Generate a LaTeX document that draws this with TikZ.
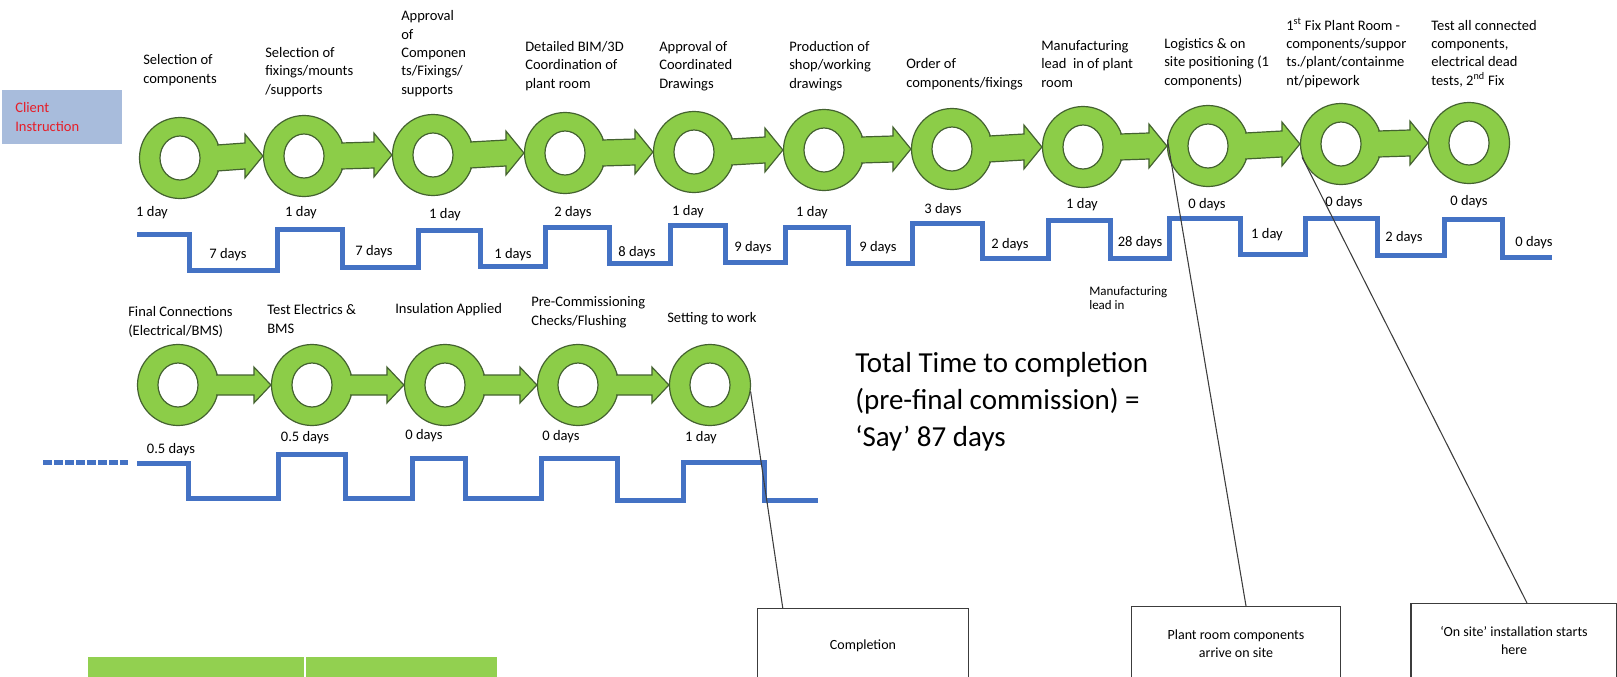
\documentclass[tikz,border=0pt]{standalone}
\usepackage{fontspec}
\setmainfont{Carlito}
\usetikzlibrary{calc}
\definecolor{ringgreen}{RGB}{140,205,72}
\definecolor{ringline}{RGB}{68,98,48}
\definecolor{stepblue}{RGB}{68,114,196}
\definecolor{clientblue}{RGB}{168,188,220}
\definecolor{clientred}{RGB}{230,30,40}
\definecolor{tablegreen}{RGB}{146,208,80}
\definecolor{leaderline}{RGB}{60,60,60}

\begin{document}
\begin{tikzpicture}[x=0.75pt,y=0.75pt,yscale=-1,xscale=1,
  ring/.style={circle, draw=ringline, line width=0.9pt, fill=ringgreen, minimum size=60.75pt, inner sep=0pt,
    path picture={\draw[ringline, line width=0.9pt, fill=white] (path picture bounding box.center) ellipse (15pt and 16.5pt);}},
  flowarrow/.style={draw=ringline, line width=0.9pt, fill=ringgreen,
    to path={($(\tikztostart)+(-4,-13)$) -- ($(\tikztotarget)+(-18,-13)$) -- ($(\tikztotarget)+(-18,-22)$) -- (\tikztotarget)
      -- ($(\tikztotarget)+(-18,22)$) -- ($(\tikztotarget)+(-18,13)$) -- ($(\tikztostart)+(-4,13)$)}},
  smallflow/.style={draw=ringline, line width=0.9pt, fill=ringgreen,
    to path={($(\tikztostart)+(-3,-10)$) -- ($(\tikztotarget)+(-17,-10)$) -- ($(\tikztotarget)+(-17,-18)$) -- (\tikztotarget)
      -- ($(\tikztotarget)+(-17,18)$) -- ($(\tikztotarget)+(-17,10)$) -- ($(\tikztostart)+(-3,10)$)}},
  timeline/.style={draw=stepblue, line width=3.75pt},
  steplabel/.style={anchor=base west, inner sep=0pt, align=left, font=\fontsize{10.9}{13.7}\selectfont},
  daylabel/.style={inner sep=0pt, font=\fontsize{10.9}{13.7}\selectfont},
  notebox/.style={draw=leaderline, line width=1.1pt, fill=white, anchor=north, minimum height=55.5pt, align=center, font=\fontsize{10.5}{13.5}\selectfont},
  leader/.style={draw=leaderline, line width=0.8pt}]
\useasboundingbox (0,0) rectangle (1617,676);
\clip (0,0) rectangle (1617,676);

%Shape: Rectangle
\node[fill=clientblue, text=clientred, minimum height=41pt, text width=70pt, inner xsep=10pt, align=left, font=\fontsize{10.9}{13.7}\selectfont] (client) at (62,117) {Client\\Instruction};

%Shape: Circle
\node[ring] (c1) at (180,158) {};
\node[ring] (c2) at (304,156) {};
\node[ring] (c3) at (433,155) {};
\node[ring] (c4) at (565,153) {};
\node[ring] (c5) at (694,152) {};
\node[ring] (c6) at (824,150) {};
\node[ring] (c7) at (952,149) {};
\node[ring] (c8) at (1083,147) {};
\node[ring] (c9) at (1208,146) {};
\node[ring] (c10) at (1341,144) {};
\node[ring] (c11) at (1469,143) {};

%Right Arrow
\path[flowarrow] (c1.east) to (c2.west);
\path[flowarrow] (c2.east) to (c3.west);
\path[flowarrow] (c3.east) to (c4.west);
\path[flowarrow] (c4.east) to (c5.west);
\path[flowarrow] (c5.east) to (c6.west);
\path[flowarrow] (c6.east) to (c7.west);
\path[flowarrow] (c7.east) to (c8.west);
\path[flowarrow] (c8.east) to (c9.west);
\path[flowarrow] (c9.east) to (c10.west);
\path[flowarrow] (c10.east) to (c11.west);

%Shape: Circle
\node[ring] (s1) at (178,385) {};
\node[ring] (s2) at (312,385) {};
\node[ring] (s3) at (445,385) {};
\node[ring] (s4) at (578,385) {};
\node[ring] (s5) at (710,385) {};

%Right Arrow
\path[smallflow] (s1.east) to (s2.west);
\path[smallflow] (s2.east) to (s3.west);
\path[smallflow] (s3.east) to (s4.west);
\path[smallflow] (s4.east) to (s5.west);

%Straight Lines
\draw[timeline] (137,234) -- (189,234) -- (189,270) -- (277,270) -- (277,229) -- (342,229) -- (342,267) -- (418,267) -- (418,230) -- (480,230) -- (480,266) -- (545,266) -- (545,227) -- (609,227) -- (609,263) -- (670,263) -- (670,225) -- (725,225) -- (725,262) -- (785,262) -- (785,227) -- (848,227) -- (848,263) -- (912,263) -- (912,223) -- (982,223) -- (982,258) -- (1048,258) -- (1048,220) -- (1110,220) -- (1110,258) -- (1169,258) -- (1169,218) -- (1240,218) -- (1240,254) -- (1305,254) -- (1305,218) -- (1377,218) -- (1377,255) -- (1444,255) -- (1444,219) -- (1502,219) -- (1502,257) -- (1552,257);
\draw[timeline, dash pattern=on 6.75pt off 1.5pt] (43,462) -- (128,462);
\draw[timeline] (137,463) -- (188,463) -- (188,498) -- (278,498) -- (278,454) -- (345,454) -- (345,498) -- (412,498) -- (412,458) -- (465,458) -- (465,498) -- (541,498) -- (541,458) -- (617,458) -- (617,500) -- (683,500) -- (683,462) -- (764,462) -- (764,500) -- (818,500);

% Text Node
\node[steplabel] (l1) at (143,83) {Selection of\\components};
\node[steplabel] (l2) at (265,94) {Selection of\\fixings/mounts\\/supports};
\node[steplabel] (l3) at (401,94) {Approval\\of\\Componen\\ts/Fixings/\\supports};
\node[steplabel] (l4) at (525,88) {Detailed BIM/3D\\Coordination of\\plant room};
\node[steplabel] (l5) at (659,88) {Approval of\\Coordinated\\Drawings};
\node[steplabel] (l6) at (789,88) {Production of\\shop/working\\drawings};
\node[steplabel] (l7) at (906,87) {Order of\\components/fixings};
\node[steplabel] (l8) at (1041,87) {Manufacturing\\lead \ in of plant\\room};
\node[steplabel] (l9) at (1164,85) {Logistics \& on\\site positioning (1\\components)};
\node[steplabel] (l10) at (1286,85) {1\textsuperscript{st} Fix Plant Room -\\components/suppor\\ts./plant/containme\\nt/pipework};
\node[steplabel] (l11) at (1431,85) {Test all connected\\components,\\electrical dead\\tests, 2\textsuperscript{nd} Fix};

% Text Node
\node[daylabel] (d1) at (152,213) {1 day};
\node[daylabel] (d2) at (228,255) {7 days};
\node[daylabel] (d3) at (301,213) {1 day};
\node[daylabel] (d4) at (374,252) {7 days};
\node[daylabel] (d5) at (445,215) {1 day};
\node[daylabel] (d6) at (513,255) {1 days};
\node[daylabel] (d7) at (573,213) {2 days};
\node[daylabel] (d8) at (637,253) {8 days};
\node[daylabel] (d9) at (688,212) {1 day};
\node[daylabel] (d10) at (753,248) {9 days};
\node[daylabel] (d11) at (812,213) {1 day};
\node[daylabel] (d12) at (878,248) {9 days};
\node[daylabel] (d13) at (943,210) {3 days};
\node[daylabel] (d14) at (1010,245) {2 days};
\node[daylabel] (d15) at (1082,205) {1 day};
\node[daylabel] (d16) at (1140,243) {28 days};
\node[daylabel] (d17) at (1207,205) {0 days};
\node[daylabel] (d18) at (1267,235) {1 day};
\node[daylabel] (d19) at (1344,203) {0 days};
\node[daylabel] (d20) at (1404,238) {2 days};
\node[daylabel] (d21) at (1469,202) {0 days};
\node[daylabel] (d22) at (1534,243) {0 days};

% Text Node
\node[steplabel, font=\fontsize{9.75}{10.5}\selectfont] (mlead) at (1089,309) {Manufacturing\\lead in};

% Text Node
\node[steplabel] (m1) at (128,335) {Final Connections\\(Electrical/BMS)};
\node[steplabel] (m2) at (267,333) {Test Electrics \&\\BMS};
\node[steplabel] (m3) at (395,313) {Insulation Applied};
\node[steplabel] (m4) at (531,325) {Pre-Commissioning\\Checks/Flushing};
\node[steplabel] (m5) at (667,322) {Setting to work};

% Text Node
\node[daylabel] (e1) at (171,450) {0.5 days};
\node[daylabel] (e2) at (305,438) {0.5 days};
\node[daylabel] (e3) at (424,436) {0 days};
\node[daylabel] (e4) at (561,437) {0 days};
\node[daylabel] (e5) at (701,438) {1 day};

% Text Node
\node[steplabel, font=\fontsize{21.75}{27.4}\selectfont] (total) at (855,446) {Total Time to completion\\(pre-final commission) =\\‘Say’ 87 days};

%Shape: Rectangle
\fill[tablegreen] (88,657) rectangle (304,680);
\fill[tablegreen] (306,657) rectangle (497,680);

%Shape: Rectangle
\node[notebox, minimum width=158.25pt] (completion) at (863,608) {Completion};
\node[notebox, minimum width=156.75pt] (plantroom) at (1236,606) {Plant room components\\arrive on site};
\node[notebox, minimum width=154.5pt] (onsite) at (1514,603) {‘On site’ installation starts\\here};

%Straight Lines
\draw[leader] (s5.-9) -- ([xshift=19.5pt]completion.north west);
\draw[leader] (c9.171) -- ([xshift=7.5pt]plantroom.north);
\draw[leader] (c10.199) -- ([xshift=9.75pt]onsite.north);

\end{tikzpicture}
\end{document}
